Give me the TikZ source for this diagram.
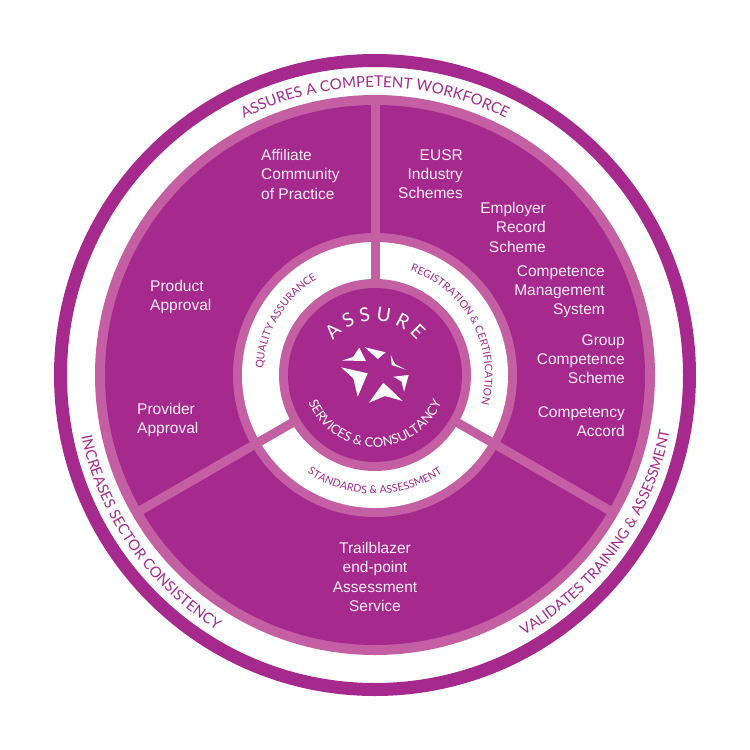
\documentclass[tikz,border=0pt]{standalone}
\usepackage{fontspec}
\setmainfont{Liberation Sans}
\newfontfamily\arcfont{Lato}
\usetikzlibrary{decorations.text}
\definecolor{deep}{HTML}{A62A8E}
\definecolor{soft}{HTML}{C45FA3}
\definecolor{pale}{HTML}{FAEEF7}
\tikzset{x=1pt,y=-1pt,
 bodytext/.style={text=pale,font=\fontsize{15.5}{19.3}\selectfont,inner sep=0pt,align=#1},
 spoke/.style={draw=soft,line width=9pt},
 shard/.style={fill=white,draw=none}}
% \arclabel{radius}{start angle}{end angle}{size}{colour}{text}
\newcommand{\arclabel}[6]{%
 \path[postaction={decorate},decoration={text along path,text align=center,
   text color=#5,text={|\arcfont\fontsize{#4}{#4}\selectfont|#6}}]
   ([shift={(#2:#1 and -#1)}]375,375) arc[start angle=#2,end angle=#3,x radius=#1,y radius=-#1];}
\begin{document}
\begin{tikzpicture}
\useasboundingbox (0,0) rectangle (750,750);
\fill[white] (0,0) rectangle (750,750);
\coordinate (c) at (375,375);
\draw[deep,line width=13pt] (c) circle[radius=314.5];
\fill[soft] (c) circle[radius=280];
\fill[deep] (c) circle[radius=270];
\foreach \a in {90,210,330}{
 \draw[spoke] (c) -- ++(\a:275 and -275);}
\fill[soft] (c) circle[radius=142];
\fill[white] (c) circle[radius=133];
\foreach \a in {90,210,330}{
 \draw[spoke] (c) -- ++(\a:137 and -137);}
\fill[soft] (c) circle[radius=96];
\fill[deep] (c) circle[radius=87];
% outer labels
\arclabel{288}{118}{62}{15}{deep}{ASSURES A COMPETENT WORKFORCE}
\arclabel{300}{180}{250}{14.8}{deep}{INCREASES SECTOR CONSISTENCY}
\arclabel{300}{-71}{0}{14.6}{deep}{VALIDATES TRAINING {\&} ASSESSMENT}
% inner ring labels
\arclabel{112}{204}{94}{10.6}{deep}{QUALITY ASSURANCE}
\arclabel{110}{108}{-52}{10.6}{deep}{REGISTRATION {\&} CERTIFICATION}
\arclabel{119}{-150}{-30}{10.7}{deep}{STANDARDS {\&} ASSESSMENT}
% centre labels
\arclabel{54}{165}{15}{19.2}{white}{A S S U R E}
\arclabel{72}{-200}{20}{13}{white}{SERVICES {\&} CONSULTANCY}
% star
\fill[shard] (342.3,360.5) -- (353,357) -- (359.3,347.7) -- (366,361) -- cycle;
\fill[shard] (365,347.3) -- (385.7,352.3) -- (377.7,359) -- cycle;
\fill[shard] (390.7,355) -- (395,364) -- (406,369.7) -- (391.7,365) -- cycle;
\fill[shard] (393.3,376.7) -- (408.7,375) -- (404,391.7) -- (401.5,381.5) -- cycle;
\fill[shard] (383.3,382.7) -- (402.7,401) -- (385,396) -- (369,402.7) -- cycle;
\fill[shard] (341,367.3) -- (367.7,373.3) -- (357.7,396.7) -- (353.3,378.3) -- cycle;
% body text
\node[bodytext=left,anchor=north west] (aff) at (261,149) {Affiliate\\Community\\of Practice};
\node[bodytext=right,anchor=north east] (eusr) at (463,149) {EUSR\\Industry\\Schemes};
\node[bodytext=right,anchor=north east] (emp) at (546,202) {Employer\\Record\\Scheme};
\node[bodytext=right,anchor=north east] (cms) at (605,265) {Competence\\Management\\System};
\node[bodytext=right,anchor=north east] (grp) at (625,334) {Group\\Competence\\Scheme};
\node[bodytext=right,anchor=north east] (acc) at (625,406) {Competency\\Accord};
\node[bodytext=left,anchor=north west] (prod) at (150,280) {Product\\Approval};
\node[bodytext=left,anchor=north west] (prov) at (137,403) {Provider\\Approval};
\node[bodytext=center,anchor=north] (trail) at (375,542) {Trailblazer\\end-point\\Assessment\\Service};
\end{tikzpicture}
\end{document}
